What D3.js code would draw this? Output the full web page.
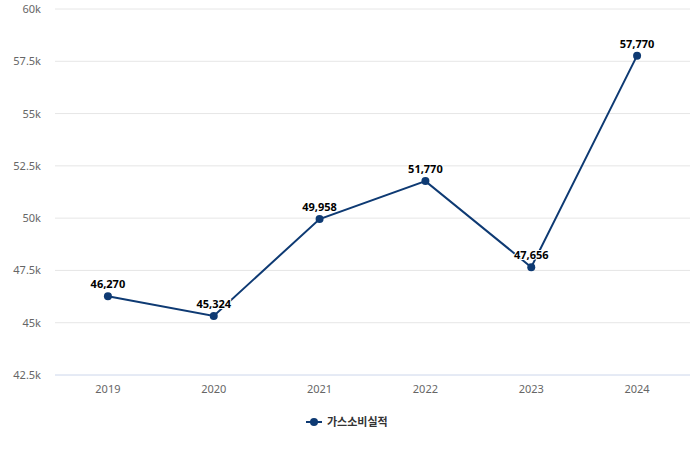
<!DOCTYPE html>
<html><head><meta charset="utf-8">
<script src="https://cdn.jsdelivr.net/npm/d3@7"></script>
<style>body{margin:0;background:#fff;font-family:"Noto Sans","Noto Sans CJK KR",sans-serif}</style>
</head><body><svg id="c" width="700" height="450"></svg>
<script>
const years=["2019","2020","2021","2022","2023","2024"];
const values=[46270,45324,49958,51770,47656,57770];
const yTicks=[42500,45000,47500,50000,52500,55000,57500,60000];
const seriesName="가스소비실적";
const color="#0e3a73";
const svg=d3.select("#c");
const x=d3.scaleBand().domain(years).range([55,690]);
const y=d3.scaleLinear().domain([42500,60000]).range([375,9]);
const fmtT=v=>(v/1000)+"k";
const g=svg.append("g");
yTicks.forEach(t=>{
  g.append("line").attr("x1",55).attr("x2",690).attr("y1",y(t)).attr("y2",y(t))
   .attr("stroke",t===42500?"#ccd6eb":"#e6e6e6");
  g.append("text").attr("x",41).attr("y",y(t)+4).attr("text-anchor","end")
   .attr("font-size",11).attr("fill","#666").text(fmtT(t));
});
years.forEach(yr=>{
  g.append("text").attr("x",x(yr)+x.bandwidth()/2).attr("y",393).attr("text-anchor","middle")
   .attr("font-size",11).attr("fill","#666").text(yr);
});
const cx=d=>x(d)+x.bandwidth()/2;
svg.append("path").datum(values).attr("fill","none").attr("stroke",color).attr("stroke-width",2)
 .attr("d",d3.line().x((d,i)=>cx(years[i])).y(d=>y(d)));
values.forEach((v,i)=>{
  svg.append("circle").attr("cx",cx(years[i])).attr("cy",y(v)).attr("r",4).attr("fill",color);
  svg.append("text").attr("x",cx(years[i])).attr("y",y(v)-8).attr("text-anchor","middle")
   .attr("font-size",11).attr("font-weight","bold").attr("fill","#000")
   .attr("stroke","#fff").attr("stroke-width",2).attr("paint-order","stroke")
   .text(d3.format(",")(v));
});
const lg=svg.append("g").attr("transform","translate(306,422)");
lg.append("line").attr("x1",0).attr("x2",16).attr("stroke",color).attr("stroke-width",2);
lg.append("circle").attr("cx",8).attr("r",4).attr("fill",color);
lg.append("text").attr("x",21).attr("y",4).attr("font-size",11).attr("font-weight","bold").attr("fill","#333").text(seriesName);
</script></body></html>
